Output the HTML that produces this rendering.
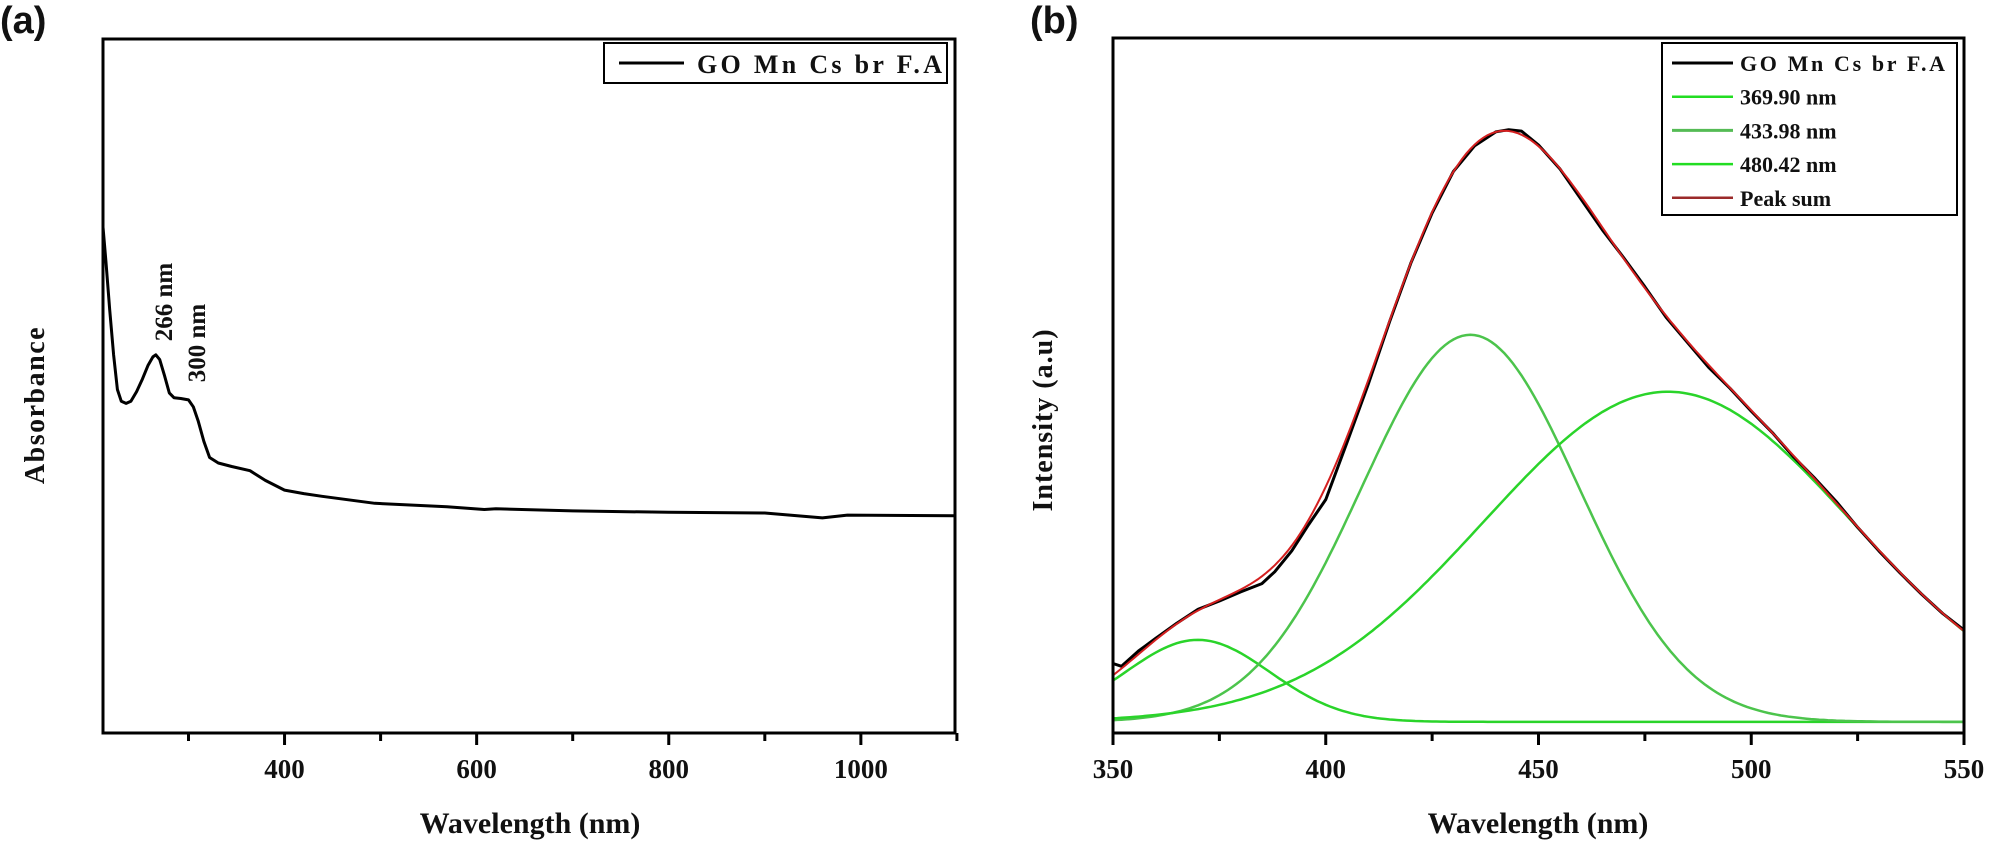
<!DOCTYPE html>
<html><head><meta charset="utf-8">
<style>
html,body{margin:0;padding:0;background:#fff;}
svg{display:block;}
.t{font-family:"Liberation Serif",serif;font-weight:bold;fill:#111;}
.p{font-family:"Liberation Sans",sans-serif;font-weight:bold;fill:#111;}
</style></head>
<body>
<svg id="fig" width="1995" height="847" viewBox="0 0 1995 847" xmlns="http://www.w3.org/2000/svg">
<rect width="1995" height="847" fill="#fff"/>
<text class="p" x="0" y="33" font-size="38">(a)</text>
<text class="p" x="1030" y="33" font-size="38">(b)</text>
<g id="pa"></g>
<g id="pb"></g>
</svg>
<script>
// ---- Panel (a) data ----
const aWavelengths = [211,214,218,222,226,230,235,240,246,252,258,263,266,270,275,280,285,292,300,305,310,316,322,331,345,364,380,400,420,439,494,569,608,620,700,800,900,960,986,1098];
const aAbsorbance = [0.729,0.680,0.610,0.545,0.495,0.478,0.475,0.478,0.492,0.510,0.530,0.542,0.545,0.538,0.515,0.490,0.483,0.482,0.480,0.470,0.450,0.420,0.397,0.389,0.384,0.378,0.364,0.350,0.345,0.341,0.331,0.326,0.322,0.323,0.320,0.318,0.317,0.310,0.314,0.313];
const aTicks = [400,600,800,1000];
const aMinorTicks = [300,500,700,900,1100];
// ---- Panel (b) data ----
const bPeakCenters = [369.90,433.98,480.42];
const bPeakAmps = [0.118,0.557,0.475];
const bPeakSigmas = [17,25.5,43.3];
const bBaseline = 0.016;
const bDataX = [350,352,356,360,365,370,375,380,385,388,392,396,400,405,410,415,420,425,430,435,440,443,446,450,455,460,465,470,475,480,485,490,495,500,505,510,515,520,525,530,535,540,545,550];
const bDataY = [0.100,0.096,0.118,0.136,0.158,0.178,0.190,0.203,0.215,0.232,0.262,0.300,0.336,0.418,0.502,0.592,0.676,0.748,0.808,0.845,0.865,0.868,0.866,0.846,0.812,0.768,0.724,0.684,0.642,0.598,0.562,0.526,0.496,0.463,0.432,0.397,0.366,0.333,0.296,0.262,0.230,0.200,0.172,0.148];
const bTicks = [350,400,450,500,550];
const bMinorTicks = [375,425,475,525];
const bLegendLabels = ["GO Mn Cs br F.A","369.90 nm","433.98 nm","480.42 nm","Peak sum"];

const NS="http://www.w3.org/2000/svg";
function mk(parent,tag,attrs,txt){const e=document.createElementNS(NS,tag);for(const k in attrs)e.setAttribute(k,attrs[k]);if(txt!==undefined)e.textContent=txt;parent.appendChild(e);return e;}

// ---------- Panel A ----------
const pa=document.getElementById('pa');
const A={l:103,r:955,t:39,b:733,x0:211,x1:1098};
const ax=v=>A.l+(v-A.x0)/(A.x1-A.x0)*(A.r-A.l);
const ay=v=>A.b-v*(A.b-A.t);
let fr=mk(pa,'rect',{x:A.l,y:A.t,width:A.r-A.l,height:A.b-A.t,fill:'none',stroke:'#000','stroke-width':3});


aTicks.forEach(v=>{
  const l=mk(pa,'line',{x1:ax(v),x2:ax(v),y1:A.b,y2:A.b+12,stroke:'#000','stroke-width':3});
  
  
  const t=mk(pa,'text',{class:'t',x:ax(v),y:778,'font-size':27,'text-anchor':'middle'},String(v));
  
  
});
aMinorTicks.forEach(v=>{
  const l=mk(pa,'line',{x1:ax(v),x2:ax(v),y1:A.b,y2:A.b+8,stroke:'#000','stroke-width':3});
  
  
});
let pts=aWavelengths.map((w,i)=>ax(w).toFixed(1)+','+ay(aAbsorbance[i]).toFixed(1)).join(' ');
let ln=mk(pa,'polyline',{points:pts,fill:'none',stroke:'#000','stroke-width':3,'stroke-linejoin':'round'});


let xt=mk(pa,'text',{class:'t',x:530,y:833,'font-size':30,'text-anchor':'middle'},'Wavelength (nm)');


let yt=mk(pa,'text',{class:'t',x:0,y:0,'font-size':28,'text-anchor':'middle','letter-spacing':1.5,transform:'translate(44,405) rotate(-90)'},'Absorbance');


let an1=mk(pa,'text',{class:'t',x:0,y:0,'font-size':25,'text-anchor':'middle',transform:'translate(172,302) rotate(-90)'},'266 nm');


let an2=mk(pa,'text',{class:'t',x:0,y:0,'font-size':25,'text-anchor':'middle',transform:'translate(205,343) rotate(-90)'},'300 nm');


let lgA=mk(pa,'g',{});


mk(lgA,'rect',{x:604,y:43,width:343,height:40,fill:'#fff',stroke:'#000','stroke-width':2});
mk(lgA,'line',{x1:619,x2:684,y1:63,y2:63,stroke:'#000','stroke-width':3});
let lta=mk(lgA,'text',{class:'t',x:697,y:73,'font-size':26,textLength:245,lengthAdjust:'spacing'},'GO Mn Cs br F.A');



// ---------- Panel B ----------
const pb=document.getElementById('pb');
const B={l:1113,r:1964,t:38,b:733,x0:350,x1:550};
const bx=v=>B.l+(v-B.x0)/(B.x1-B.x0)*(B.r-B.l);
const by=v=>B.b-v*(B.b-B.t);
function gauss(x,i){const d=x-bPeakCenters[i];return bPeakAmps[i]*Math.exp(-d*d/(2*bPeakSigmas[i]*bPeakSigmas[i]));}
const greens=['#2ad42a','#4cc44c','#2ad42a'];
for(let i=0;i<3;i++){
  let p=[];
  for(let x=350;x<=550;x+=1)p.push(bx(x).toFixed(1)+','+by(bBaseline+gauss(x,i)).toFixed(1));
  const g=mk(pb,'polyline',{points:p.join(' '),fill:'none',stroke:greens[i],'stroke-width':2.5});
  
  
}
let dp=bDataX.map((w,i)=>bx(w).toFixed(1)+','+by(bDataY[i]).toFixed(1)).join(' ');
let dl=mk(pb,'polyline',{points:dp,fill:'none',stroke:'#000','stroke-width':3,'stroke-linejoin':'round'});


let sp=[];
for(let x=350;x<=550;x+=1){let s=bBaseline;for(let i=0;i<3;i++)s+=gauss(x,i);sp.push(bx(x).toFixed(1)+','+by(s).toFixed(1));}
let sl=mk(pb,'polyline',{points:sp.join(' '),fill:'none',stroke:'#d42020','stroke-width':2});


let frb=mk(pb,'rect',{x:B.l,y:B.t,width:B.r-B.l,height:B.b-B.t,fill:'none',stroke:'#000','stroke-width':3});


bTicks.forEach(v=>{
  const l=mk(pb,'line',{x1:bx(v),x2:bx(v),y1:B.b,y2:B.b+12,stroke:'#000','stroke-width':3});
  
  
  const t=mk(pb,'text',{class:'t',x:bx(v),y:778,'font-size':27,'text-anchor':'middle'},String(v));
  
  
});
bMinorTicks.forEach(v=>{
  const l=mk(pb,'line',{x1:bx(v),x2:bx(v),y1:B.b,y2:B.b+8,stroke:'#000','stroke-width':3});
  
  
});
let xtb=mk(pb,'text',{class:'t',x:1538,y:833,'font-size':30,'text-anchor':'middle'},'Wavelength (nm)');


let ytb=mk(pb,'text',{class:'t',x:0,y:0,'font-size':28,'text-anchor':'middle','letter-spacing':1,transform:'translate(1052,420) rotate(-90)'},'Intensity (a.u)');


let lgB=mk(pb,'g',{});


mk(lgB,'rect',{x:1662,y:43,width:295,height:172,fill:'#fff',stroke:'#000','stroke-width':2});
const lcol=['#000','#22dd22','#55bb55','#22dd22','#9b2a2a'];
const lw=[3,2.5,3,2.5,2.5];
bLegendLabels.forEach((s,i)=>{
  const y=63+i*33.7;
  mk(lgB,'line',{x1:1672,x2:1733,y1:y,y2:y,stroke:lcol[i],'stroke-width':lw[i]});
  const attrs={class:'t',x:1740,y:y+8,'font-size':22};
  if(i===0){attrs.textLength=205;attrs.lengthAdjust='spacing';}
  const t=mk(lgB,'text',attrs,s);
  
  
});
</script>
</body></html>
